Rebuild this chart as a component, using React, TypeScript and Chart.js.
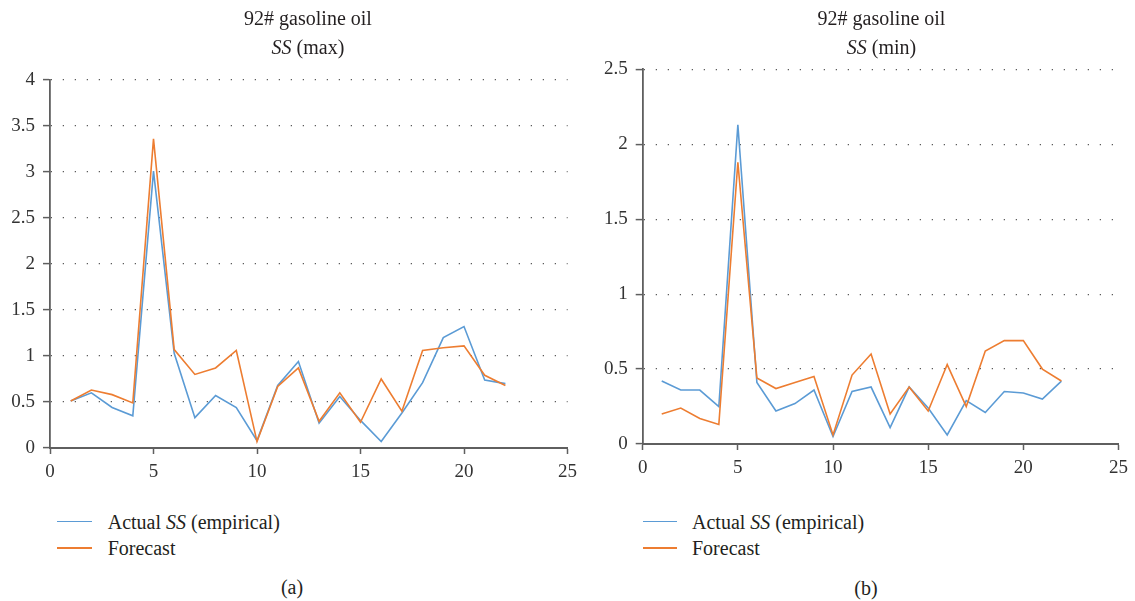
import React, { useEffect, useRef } from "react";
import { Chart, registerables } from "chart.js";

Chart.register(...registerables);

const periods = [1, 2, 3, 4, 5, 6, 7, 8, 9, 10, 11, 12, 13, 14, 15, 16, 17, 18, 19, 20, 21, 22];
const actualMax = [0.51, 0.6, 0.44, 0.35, 3.01, 1.03, 0.33, 0.57, 0.44, 0.08, 0.68, 0.94, 0.27, 0.56, 0.3, 0.07, 0.38, 0.71, 1.2, 1.32, 0.74, 0.7];
const forecastMax = [0.51, 0.63, 0.58, 0.49, 3.36, 1.07, 0.8, 0.87, 1.06, 0.07, 0.67, 0.87, 0.29, 0.6, 0.28, 0.75, 0.4, 1.06, 1.09, 1.11, 0.79, 0.68];
const actualMin = [0.42, 0.36, 0.36, 0.25, 2.13, 0.41, 0.22, 0.27, 0.36, 0.05, 0.35, 0.38, 0.11, 0.38, 0.24, 0.06, 0.29, 0.21, 0.35, 0.34, 0.3, 0.42];
const forecastMin = [0.2, 0.24, 0.17, 0.13, 1.88, 0.44, 0.37, 0.41, 0.45, 0.06, 0.46, 0.6, 0.2, 0.38, 0.22, 0.53, 0.25, 0.62, 0.69, 0.69, 0.5, 0.42];
const xTickMax = 25;
const xTickStep = 5;
const yTickStep = 0.5;
const yMaxLeft = 4;
const yMaxRight = 2.5;
const titleLine1 = "92# gasoline oil";
const seriesNames = ["Actual", "Forecast"];

const BLUE = "#5B9BD5";
const ORANGE = "#ED7D31";
const AXIS = "#5f5f5f";
const FONT = "'Liberation Serif', 'Times New Roman', serif";

type PanelProps = {
  left: number;
  width: number;
  height: number;
  pad: { left: number; right: number; top: number; bottom: number };
  yMax: number;
  actual: number[];
  forecast: number[];
};

function Panel({ left, width, height, pad, yMax, actual, forecast }: PanelProps) {
  const ref = useRef<HTMLCanvasElement | null>(null);
  useEffect(() => {
    if (!ref.current) return;
    const chart = new Chart(ref.current, {
      type: "line",
      data: {
        datasets: [
          {
            label: seriesNames[0],
            data: periods.map((x, i) => ({ x, y: actual[i] })),
            borderColor: BLUE,
            borderWidth: 1.6,
            pointRadius: 0,
            tension: 0,
            order: 1,
          },
          {
            label: seriesNames[1],
            data: periods.map((x, i) => ({ x, y: forecast[i] })),
            borderColor: ORANGE,
            borderWidth: 1.6,
            pointRadius: 0,
            tension: 0,
            order: 0,
          },
        ],
      },
      options: {
        animation: false,
        responsive: false,
        devicePixelRatio: 1,
        layout: { padding: pad },
        plugins: {
          legend: { display: false },
          title: { display: false },
          tooltip: { enabled: false },
        },
        scales: {
          x: {
            type: "linear",
            min: 0,
            max: xTickMax,
            afterFit: (s: any) => {
              s.height = 40;
            },
            ticks: {
              stepSize: xTickStep,
              color: "#333",
              padding: 7,
              maxRotation: 0,
              font: { family: FONT, size: 19 },
              callback: (v: any) => String(Number(v)),
            },
            grid: {
              drawOnChartArea: false,
              drawTicks: true,
              tickLength: 6,
              tickColor: AXIS,
              tickWidth: 1.5,
            },
            border: { color: AXIS, width: 2 },
          },
          y: {
            min: 0,
            max: yMax,
            afterFit: (s: any) => {
              s.width = 50;
            },
            ticks: {
              stepSize: yTickStep,
              color: "#333",
              padding: 8,
              font: { family: FONT, size: 19 },
              callback: (v: any) => String(Number(v)),
            },
            grid: {
              color: "#333",
              lineWidth: 1.2,
              drawTicks: true,
              tickLength: 7,
              tickColor: AXIS,
              tickWidth: 1.5,
              tickBorderDash: [],
            } as any,
            border: { color: AXIS, width: 1.8, dash: [1, 11] },
          },
        },
      },
    });
    return () => chart.destroy();
  }, []);
  return (
    <canvas
      ref={ref}
      width={width}
      height={height}
      style={{ position: "absolute", left, top: 0, width, height }}
    />
  );
}

const textBase: React.CSSProperties = {
  position: "absolute",
  fontFamily: FONT,
  fontSize: 20,
  lineHeight: 1,
  color: "#231f20",
  whiteSpace: "nowrap",
};

function Centered({ x, y, children }: { x: number; y: number; children: React.ReactNode }) {
  return (
    <div style={{ ...textBase, left: x, top: y, transform: "translate(-50%, -50%)" }}>{children}</div>
  );
}

function LegendRow({ x1, x2, tx, y, color, children }: any) {
  return (
    <>
      <div
        style={{
          position: "absolute",
          left: x1,
          top: y - 0.75,
          width: x2 - x1,
          height: 1.5,
          background: color,
        }}
      />
      <div style={{ ...textBase, left: tx, top: y, transform: "translateY(-50%)" }}>{children}</div>
    </>
  );
}

export default function App() {
  return (
    <div
      style={{
        position: "fixed",
        left: 0,
        top: 0,
        width: 1135,
        height: 601,
        background: "#fff",
        overflow: "hidden",
      }}
    >
      <Panel
        left={0}
        width={600}
        height={500}
        pad={{ left: 0, right: 32.5, top: 80, bottom: 12 }}
        yMax={yMaxLeft}
        actual={actualMax}
        forecast={forecastMax}
      />
      <Panel
        left={575}
        width={560}
        height={500}
        pad={{ left: 17.7, right: 15, top: 69.3, bottom: 16 }}
        yMax={yMaxRight}
        actual={actualMin}
        forecast={forecastMin}
      />

      <Centered x={308} y={17.5}>{titleLine1}</Centered>
      <Centered x={308} y={47}>
        <i>SS</i> (max)
      </Centered>
      <Centered x={881.5} y={17.5}>{titleLine1}</Centered>
      <Centered x={881.5} y={47}>
        <i>SS</i> (min)
      </Centered>

      <LegendRow x1={57} x2={92} tx={107.7} y={521.7} color={BLUE}>
        {seriesNames[0]} <i>SS</i> (empirical)
      </LegendRow>
      <LegendRow x1={57} x2={92} tx={107.7} y={548} color={ORANGE}>
        {seriesNames[1]}
      </LegendRow>
      <LegendRow x1={643} x2={677} tx={692} y={521.7} color={BLUE}>
        {seriesNames[0]} <i>SS</i> (empirical)
      </LegendRow>
      <LegendRow x1={643} x2={677} tx={692} y={548} color={ORANGE}>
        {seriesNames[1]}
      </LegendRow>

      <Centered x={292} y={587}>(a)</Centered>
      <Centered x={866} y={588}>(b)</Centered>
    </div>
  );
}
